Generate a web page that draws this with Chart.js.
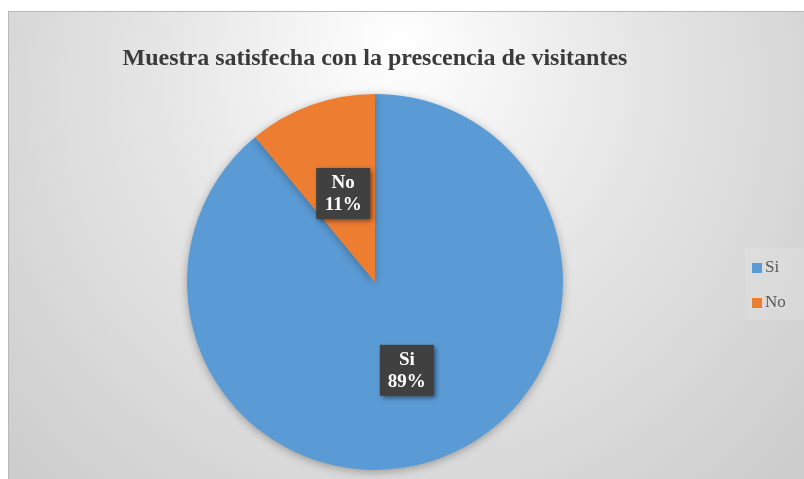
<!DOCTYPE html>
<html>
<head>
<meta charset="utf-8">
<script src="https://cdn.jsdelivr.net/npm/chart.js@4.4.0/dist/chart.umd.min.js"></script>
<style>
    html, body { margin: 0; padding: 0; background: #fff; }
    #wrap { width: 804px; height: 479px; position: relative; }
</style>
</head>
<body>
<div id="wrap"><canvas id="pie__chart" width="804" height="479"></canvas></div>
<script>
const categories = ['Si', 'No'];
const percentValues = [89, 11];
const sliceColors = ['#5B9BD5', '#ED7D31'];
const chartTitle = 'Muestra satisfecha con la prescencia de visitantes';

const serif = "'Liberation Serif', 'Times New Roman', serif";

// frame + gradient background
const frameBackground = {
    id: 'frameBackground',
    beforeDraw(chart) {
        const ctx = chart.ctx;
        const x0 = 8, y0 = 11, w = chart.width - x0, h = chart.height - y0;
        ctx.save();
        ctx.fillStyle = '#ffffff';
        ctx.fillRect(0, 0, chart.width, chart.height);
        const g = ctx.createRadialGradient(400, 40, 0, 400, 120, 520);
        g.addColorStop(0, '#ffffff');
        g.addColorStop(0.45, '#e6e6e6');
        g.addColorStop(1, '#cdcdcd');
        ctx.fillStyle = g;
        ctx.fillRect(x0, y0, w, h);
        ctx.strokeStyle = '#b8b8b8';
        ctx.lineWidth = 1;
        ctx.beginPath();
        ctx.moveTo(x0, y0 + 0.5);
        ctx.lineTo(chart.width, y0 + 0.5);
        ctx.moveTo(x0 + 0.5, y0);
        ctx.lineTo(x0 + 0.5, chart.height);
        ctx.stroke();
        ctx.restore();
    },
};

// soft shadow under the pie
const pieShadow = {
    id: 'pieShadow',
    beforeDatasetsDraw(chart) {
        const ctx = chart.ctx;
        ctx.save();
        ctx.shadowColor = 'rgba(0,0,0,0.3)';
        ctx.shadowBlur = 8;
        ctx.shadowOffsetX = 0;
        ctx.shadowOffsetY = 2;
    },
    afterDatasetsDraw(chart) {
        chart.ctx.restore();
    },
};

// dark boxed labels "Si 89%"
const boxLabels = {
    id: 'boxLabels',
    afterDatasetsDraw(chart) {
        const ctx = chart.ctx;
        const meta = chart.getDatasetMeta(0);
        meta.data.forEach((arc, i) => {
            const pos = arc.tooltipPosition();
            const bw = 54, bh = 51;
            const bx = pos.x - bw / 2, by = pos.y - bh / 2;
            ctx.save();
            ctx.shadowColor = 'rgba(0,0,0,0.55)';
            ctx.shadowBlur = 5;
            ctx.shadowOffsetX = 2;
            ctx.shadowOffsetY = 2;
            ctx.fillStyle = '#404040';
            ctx.fillRect(bx, by, bw, bh);
            ctx.restore();
            ctx.save();
            ctx.fillStyle = '#ffffff';
            ctx.font = 'bold 19px ' + serif;
            ctx.textAlign = 'center';
            ctx.textBaseline = 'middle';
            ctx.fillText(categories[i], pos.x, pos.y - 10);
            ctx.fillText(percentValues[i] + '%', pos.x, pos.y + 12);
            ctx.restore();
        });
    },
};

// legend on the right, square markers close to the text
const sideLegend = {
    id: 'sideLegend',
    afterDraw(chart) {
        const ctx = chart.ctx;
        const x = 752, y0 = 268, step = 35;
        ctx.save();
        ctx.fillStyle = 'rgba(255,255,255,0.12)';
        ctx.fillRect(745, 248, 59, 72);
        ctx.font = '17px ' + serif;
        ctx.textBaseline = 'middle';
        ctx.textAlign = 'left';
        categories.forEach((name, i) => {
            const y = y0 + i * step;
            ctx.fillStyle = sliceColors[i];
            ctx.fillRect(x, y - 5, 10, 10);
            ctx.fillStyle = '#595959';
            ctx.fillText(name, x + 13, y);
        });
        ctx.restore();
    },
};

const pieChart = new Chart(document.getElementById('pie__chart'), {
    type: 'pie',
    data: {
        labels: categories,
        datasets: [
            {
                data: percentValues,
                backgroundColor: sliceColors,
                borderWidth: 0,
            },
        ],
    },
    options: {
        responsive: false,
        animation: false,
        radius: 188,
        layout: {
            padding: { left: 8, right: 62, top: 0, bottom: 8 },
        },
        plugins: {
            title: {
                display: true,
                text: chartTitle,
                color: '#3a3a3a',
                font: { family: serif, size: 24, weight: 'bold' },
                padding: { top: 44, bottom: 20 },
            },
            legend: { display: false },
            tooltip: { enabled: false },
        },
    },
    plugins: [frameBackground, pieShadow, boxLabels, sideLegend],
});
</script>
</body>
</html>
